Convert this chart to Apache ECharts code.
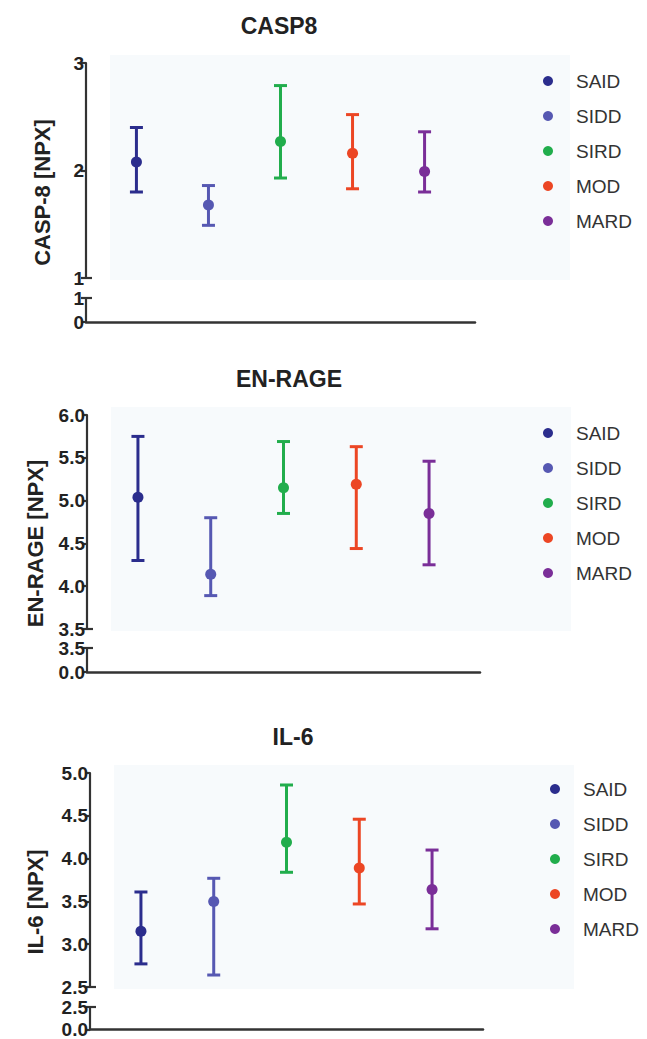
<!DOCTYPE html>
<html>
<head>
<meta charset="utf-8">
<script src="https://cdn.jsdelivr.net/npm/echarts@6/dist/echarts.min.js"></script>
<style>
  html, body { margin: 0; padding: 0; background: #fff; }
  #chart { width: 647px; height: 1039px; }
</style>
</head>
<body>
<div id="chart"></div>
<script>
// groups (same order in every panel)
const groups = ['SAID', 'SIDD', 'SIRD', 'MOD', 'MARD'];
const groupColors = ['#2b2d8d', '#5658b2', '#21ad4c', '#ec4624', '#7a2e98'];

// CASP8
const casp8Mean = [2.08, 1.68, 2.27, 2.16, 1.99];
const casp8Low = [1.80, 1.49, 1.93, 1.83, 1.80];
const casp8High = [2.40, 1.86, 2.79, 2.52, 2.36];
const casp8Ticks = [1, 2, 3];
const casp8BreakTicks = ['0', '1'];

// EN-RAGE
const enrageMean = [5.04, 4.14, 5.15, 5.19, 4.85];
const enrageLow = [4.30, 3.89, 4.85, 4.44, 4.25];
const enrageHigh = [5.75, 4.80, 5.69, 5.63, 5.46];
const enrageTicks = [3.5, 4.0, 4.5, 5.0, 5.5, 6.0];
const enrageBreakTicks = ['0.0', '3.5'];

// IL-6
const il6Mean = [3.15, 3.50, 4.19, 3.89, 3.64];
const il6Low = [2.77, 2.64, 3.84, 3.47, 3.18];
const il6High = [3.61, 3.77, 4.86, 4.46, 4.10];
const il6Ticks = [2.5, 3.0, 3.5, 4.0, 4.5, 5.0];
const il6BreakTicks = ['0.0', '2.5'];

const panels = [
  { title: 'CASP8', yName: 'CASP-8 [NPX]', mean: casp8Mean, low: casp8Low, high: casp8High,
    ticks: casp8Ticks, breakTicks: casp8BreakTicks, dec: 0,
    box: { x: 86, right: 475, top: 63, bottom: 278, lowTop: 298, lowBottom: 322,
           titleX: 274, titleY: 9, legendLeft: 543, legendTop: 71, nameGap: 33 } },
  { title: 'EN-RAGE', yName: 'EN-RAGE [NPX]', mean: enrageMean, low: enrageLow, high: enrageHigh,
    ticks: enrageTicks, breakTicks: enrageBreakTicks, dec: 1,
    box: { x: 87, right: 480, top: 415, bottom: 629, lowTop: 648, lowBottom: 672,
           titleX: 284, titleY: 362, legendLeft: 543, legendTop: 423, nameGap: 41 } },
  { title: 'IL-6', yName: 'IL-6 [NPX]', mean: il6Mean, low: il6Low, high: il6High,
    ticks: il6Ticks, breakTicks: il6BreakTicks, dec: 1,
    box: { x: 90, right: 483, top: 773, bottom: 987, lowTop: 1007, lowBottom: 1031,
           titleX: 288, titleY: 720, legendLeft: 550, legendTop: 779, nameGap: 44 } }
];

const FONT = '"Liberation Sans", Arial, Helvetica, sans-serif';
const AXIS_COLOR = '#333';
const X_MIN = 0.3, X_MAX = 5.7;

const chart = echarts.init(document.getElementById('chart'), null, { renderer: 'svg' });

function renderErrorBar(params, api) {
  const x = api.value(0);
  const lo = api.coord([x, api.value(1)]);
  const hi = api.coord([x, api.value(2)]);
  const w = 6.5;
  const style = { stroke: api.visual('color'), lineWidth: 3 };
  return {
    type: 'group',
    children: [
      { type: 'line', shape: { x1: lo[0], y1: lo[1], x2: hi[0], y2: hi[1] }, style: style },
      { type: 'line', shape: { x1: lo[0] - w, y1: lo[1], x2: lo[0] + w, y2: lo[1] }, style: style },
      { type: 'line', shape: { x1: hi[0] - w, y1: hi[1], x2: hi[0] + w, y2: hi[1] }, style: style }
    ]
  };
}

const grid = [], xAxis = [], yAxis = [], series = [], title = [], legend = [];
const tickLabel = { fontFamily: FONT, fontWeight: 'bold', fontSize: 19, color: '#222', margin: 2 };

panels.forEach((p, k) => {
  const b = p.box;
  const g0 = k * 3;       // plot grid
  const g1 = k * 3 + 1;   // broken 0 segment
  const g2 = k * 3 + 2;   // holds the axis name over the full height
  const width = b.right - b.x;

  grid.push({ left: b.x, top: b.top, width: width, height: b.bottom - b.top });
  grid.push({ left: b.x, top: b.lowTop, width: width, height: b.lowBottom - b.lowTop });
  grid.push({ left: b.x, top: b.top, width: width, height: b.lowBottom - b.top });

  xAxis.push({ gridIndex: g0, type: 'value', min: X_MIN, max: X_MAX, show: false });
  xAxis.push({ gridIndex: g1, type: 'value', min: X_MIN, max: X_MAX,
    axisLine: { show: true, onZero: false, lineStyle: { color: AXIS_COLOR, width: 2.5 } },
    axisTick: { show: false }, axisLabel: { show: false }, splitLine: { show: false } });
  xAxis.push({ gridIndex: g2, type: 'value', min: 0, max: 1, show: false });

  const step = p.ticks[1] - p.ticks[0];
  yAxis.push({ gridIndex: g0, type: 'value',
    min: p.ticks[0], max: p.ticks[p.ticks.length - 1], interval: step,
    axisLine: { show: true, lineStyle: { color: AXIS_COLOR, width: 2.2 } },
    axisTick: { show: true, length: 5, lineStyle: { color: AXIS_COLOR, width: 2.2 } },
    axisLabel: Object.assign({ formatter: v => v.toFixed(p.dec) }, tickLabel),
    splitLine: { show: false } });
  yAxis.push({ gridIndex: g1, type: 'value', min: 0, max: 1, interval: 1,
    axisLine: { show: true, lineStyle: { color: AXIS_COLOR, width: 2.2 } },
    axisTick: { show: true, length: 5, lineStyle: { color: AXIS_COLOR, width: 2.2 } },
    axisLabel: Object.assign({ formatter: v => p.breakTicks[v] }, tickLabel),
    splitLine: { show: false } });
  yAxis.push({ gridIndex: g2, type: 'value', min: 0, max: 1,
    axisLine: { show: false }, axisTick: { show: false }, axisLabel: { show: false },
    splitLine: { show: false },
    name: p.yName, nameLocation: 'middle', nameGap: b.nameGap, nameRotate: 90,
    nameTextStyle: { fontFamily: FONT, fontWeight: 'bold', fontSize: 22, color: '#222' } });

  title.push({ text: p.title, left: b.titleX, top: b.titleY, textAlign: 'center',
    textStyle: { fontFamily: FONT, fontWeight: 'bold', fontSize: 23, color: '#222' } });

  legend.push({ orient: 'vertical', left: b.legendLeft, top: b.legendTop, padding: 0,
    icon: 'circle', itemWidth: 10, itemHeight: 10, itemGap: 15, selectedMode: false,
    data: groups,
    textStyle: { fontFamily: FONT, fontSize: 19, color: '#333', lineHeight: 20, padding: [0, 0, 0, 18] } });

  groups.forEach((name, i) => {
    series.push({ name: name, type: 'scatter', xAxisIndex: g0, yAxisIndex: g0,
      symbolSize: 11, itemStyle: { color: groupColors[i], opacity: 1 }, z: 4,
      data: [[i + 1, p.mean[i]]] });
    series.push({ name: name, type: 'custom', xAxisIndex: g0, yAxisIndex: g0,
      renderItem: renderErrorBar, clip: false, z: 3,
      itemStyle: { color: groupColors[i] },
      encode: { x: 0, y: [1, 2] },
      data: [[i + 1, p.low[i], p.high[i]]] });
  });
});

chart.setOption({
  backgroundColor: '#fff',
  animation: false,
  title: title,
  legend: legend,
  grid: grid,
  xAxis: xAxis,
  yAxis: yAxis,
  series: series
});

// faint panel tint and the small caps at the axis break
const graphic = [];
panels.forEach((p, k) => {
  const b = p.box;
  graphic.push({ type: 'rect', z: -10, silent: true,
    shape: { x: b.x + 24, y: b.top - 8, width: 460, height: b.bottom - b.top + 10 },
    style: { fill: '#f7fafc' } });
  const top = chart.convertToPixel({ gridIndex: k * 3 }, [X_MIN, p.ticks[0]]);
  const low = chart.convertToPixel({ gridIndex: k * 3 + 1 }, [X_MIN, 1]);
  [top, low].forEach(pt => {
    graphic.push({ type: 'line', silent: true,
      shape: { x1: pt[0], y1: pt[1], x2: pt[0] + 6, y2: pt[1] },
      style: { stroke: AXIS_COLOR, lineWidth: 2.2 } });
  });
});
chart.setOption({ graphic: graphic });
</script>
</body>
</html>
